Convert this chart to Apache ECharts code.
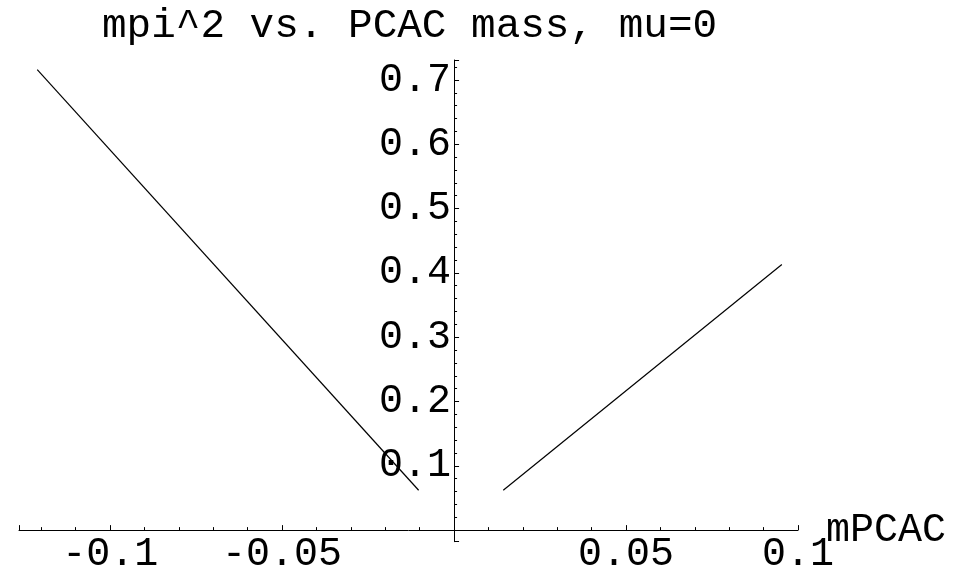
<!DOCTYPE html>
<html>
<head>
<meta charset="utf-8">
<script src="https://cdn.jsdelivr.net/npm/echarts@6/dist/echarts.min.js"></script>
<style>
html,body{margin:0;padding:0;background:#fff;}
#chart{width:955px;height:571px;}
</style>
</head>
<body>
<div id="chart"></div>
<script>
// ---- data ----
const titleText = "mpi^2 vs. PCAC mass, mu=0";
const xAxisName = "mPCAC";
const leftX = [-0.1212, -0.0103];
const leftY = [0.716, 0.062];
const rightX = [0.0143, 0.0953];
const rightY = [0.062, 0.413];
const xRange = [-0.1265, 0.1];
const yRange = [-0.018, 0.731];

function pairs(xs, ys) { return xs.map((x, i) => [x, ys[i]]); }
function fmt(v) {
  if (Math.abs(v) < 1e-9) return '';
  return String(+v.toFixed(4));
}

const W = 955, H = 571;
const GRID = {left: 19, right: 157, top: 60, bottom: 29.3};
const plotW = W - GRID.left - GRID.right;
const plotH = H - GRID.top - GRID.bottom;
// shift axes so that they cross at the origin
const yAxisOffset = -plotW * (0 - xRange[0]) / (xRange[1] - xRange[0]);
const xAxisOffset = -plotH * (0 - yRange[0]) / (yRange[1] - yRange[0]);

const FONT = '"Liberation Mono", "DejaVu Sans Mono", monospace';
const chart = echarts.init(document.getElementById('chart'), null, {renderer: 'canvas'});
chart.setOption({
  animation: false,
  backgroundColor: '#ffffff',
  grid: Object.assign({containLabel: false, outerBoundsMode: 'none'}, GRID),
  xAxis: {
    type: 'value', min: xRange[0], max: xRange[1], splitNumber: 5,
    position: 'bottom', offset: xAxisOffset,
    name: xAxisName, nameLocation: 'end', nameGap: 28, nameMoveOverlap: false,
    nameTextStyle: {fontFamily: FONT, fontSize: 40, color: '#000', padding: [14, 0, 0, 0]},
    axisLine: {show: true, onZero: false, lineStyle: {color: '#000', width: 1}},
    axisTick: {show: true, inside: true, length: 5, lineStyle: {color: '#000', width: 1}},
    minorTick: {show: true, splitNumber: 5, length: 3, lineStyle: {color: '#000', width: 1}},
    splitLine: {show: false}, minorSplitLine: {show: false},
    axisLabel: {show: true, margin: 4, showMinLabel: false, fontFamily: FONT, fontSize: 40, color: '#000', formatter: fmt}
  },
  yAxis: {
    type: 'value', min: yRange[0], max: yRange[1], splitNumber: 7,
    position: 'left', offset: yAxisOffset,
    axisLine: {show: true, onZero: false, lineStyle: {color: '#000', width: 1}},
    axisTick: {show: true, inside: true, length: 5, lineStyle: {color: '#000', width: 1}},
    minorTick: {show: true, splitNumber: 5, length: 3, lineStyle: {color: '#000', width: 1}},
    splitLine: {show: false}, minorSplitLine: {show: false},
    axisLabel: {show: true, margin: 3, showMinLabel: false, showMaxLabel: false, fontFamily: FONT, fontSize: 40, color: '#000', formatter: fmt}
  },
  series: [
    {type: 'line', data: pairs(leftX, leftY), showSymbol: false, symbol: 'none', lineStyle: {color: '#000', width: 1.2}, silent: true},
    {type: 'line', data: pairs(rightX, rightY), showSymbol: false, symbol: 'none', lineStyle: {color: '#000', width: 1.2}, silent: true}
  ],
  graphic: [{
    type: 'text', x: 102, y: 6,
    style: {text: titleText, x: 0, y: 0, font: '41px ' + FONT, fill: '#000', verticalAlign: 'top'}
  }]
});
</script>
</body>
</html>
